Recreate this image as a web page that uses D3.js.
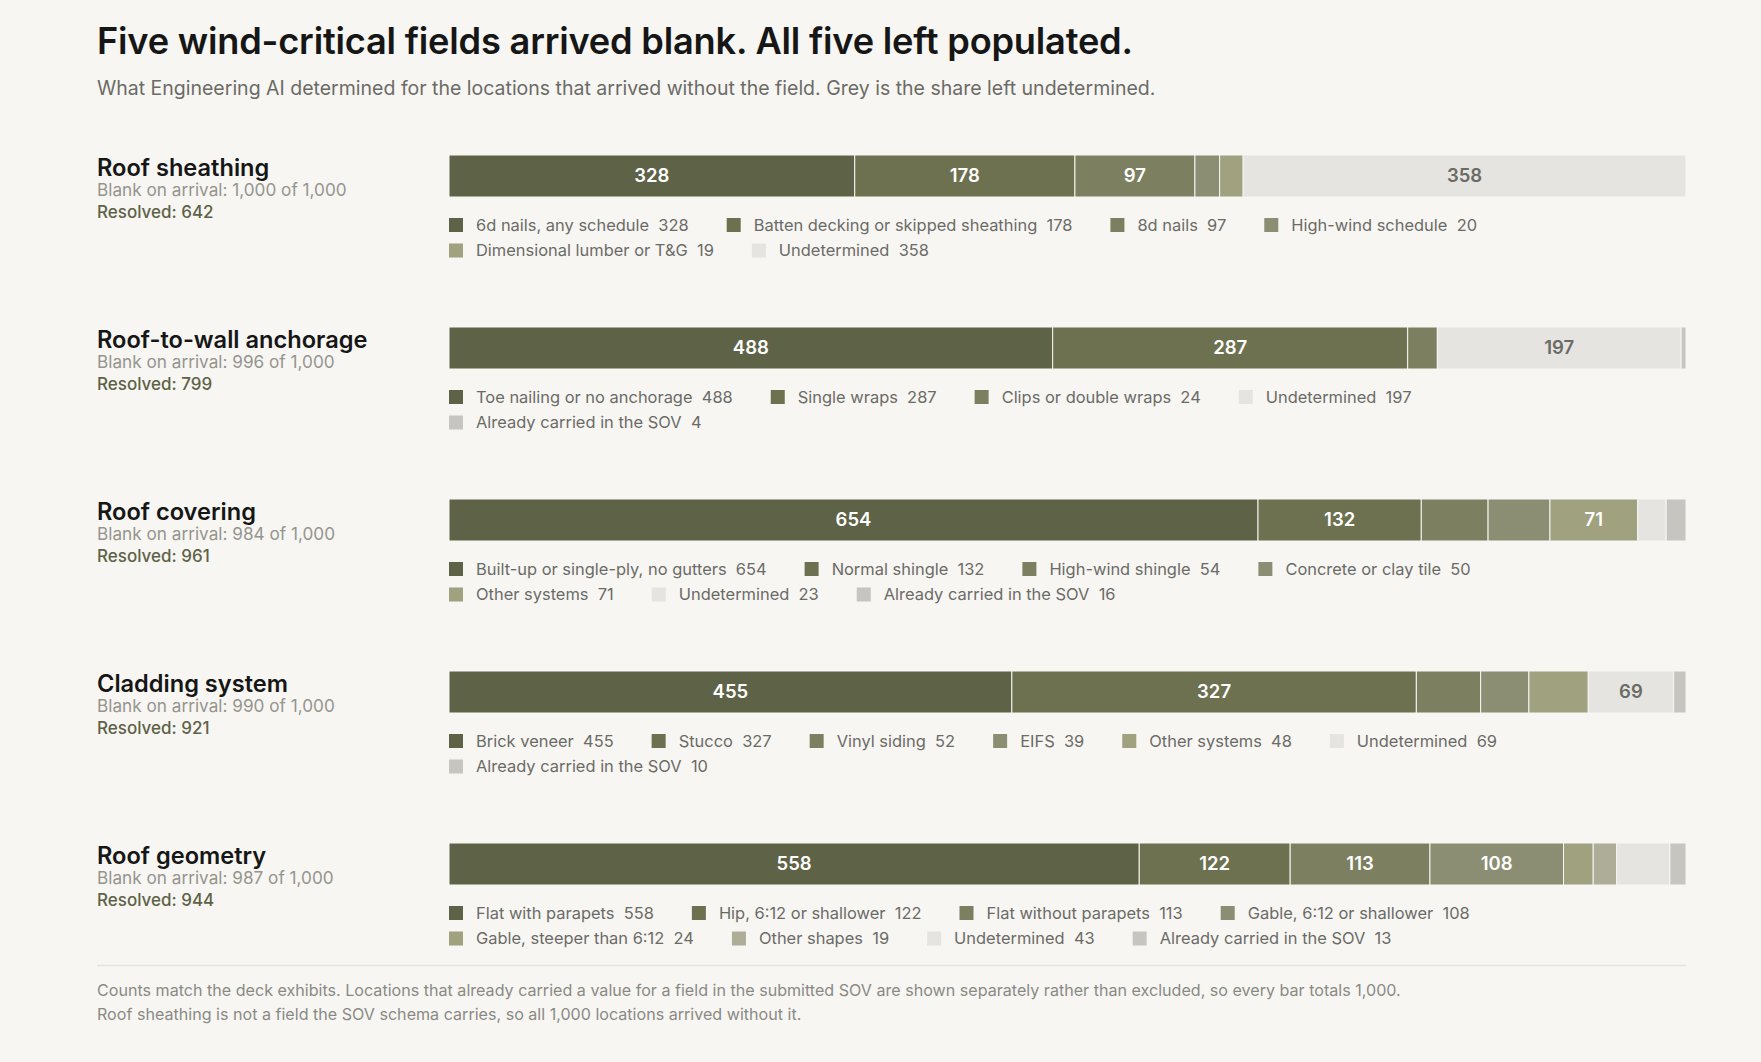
<!DOCTYPE html>
<html>
<head>
<meta charset="utf-8">
<script src="https://cdn.jsdelivr.net/npm/d3@7/dist/d3.min.js"></script>
<style>
  html, body { margin: 0; padding: 0; background: #f7f6f3; }
  svg { display: block; font-family: Inter, "Noto Sans", sans-serif; }
</style>
</head>
<body>
<script>
// fields, top to bottom
var fields = ["Roof sheathing", "Roof-to-wall anchorage", "Roof covering", "Cladding system", "Roof geometry"];

var sheathingCats = ["6d nails, any schedule", "Batten decking or skipped sheathing", "8d nails", "High-wind schedule", "Dimensional lumber or T&G", "Undetermined"];
var sheathingVals = [328, 178, 97, 20, 19, 358];

var anchorageCats = ["Toe nailing or no anchorage", "Single wraps", "Clips or double wraps", "Undetermined", "Already carried in the SOV"];
var anchorageVals = [488, 287, 24, 197, 4];

var coveringCats = ["Built-up or single-ply, no gutters", "Normal shingle", "High-wind shingle", "Concrete or clay tile", "Other systems", "Undetermined", "Already carried in the SOV"];
var coveringVals = [654, 132, 54, 50, 71, 23, 16];

var claddingCats = ["Brick veneer", "Stucco", "Vinyl siding", "EIFS", "Other systems", "Undetermined", "Already carried in the SOV"];
var claddingVals = [455, 327, 52, 39, 48, 69, 10];

var geometryCats = ["Flat with parapets", "Hip, 6:12 or shallower", "Flat without parapets", "Gable, 6:12 or shallower", "Gable, steeper than 6:12", "Other shapes", "Undetermined", "Already carried in the SOV"];
var geometryVals = [558, 122, 113, 108, 24, 19, 43, 13];

var fieldCats = [sheathingCats, anchorageCats, coveringCats, claddingCats, geometryCats];
var fieldVals = [sheathingVals, anchorageVals, coveringVals, claddingVals, geometryVals];

var total = 1000;

var olive = ["#5e6246", "#6d7150", "#7c8060", "#8b8e73", "#9fa17f", "#adad98"];
var undetColor = "#e5e4e1";
var alreadyColor = "#c6c5c0";

var W = 1761, H = 1062;
var margin = {left: 97, right: 75};
var barX = 449, barW = 1686 - 449;
var barTop = 155, barH = 42, rowStep = 172;

var fmt = d3.format(",");

var svg = d3.select("body").append("svg")
    .attr("width", W)
    .attr("height", H);

svg.append("text")
    .attr("x", margin.left)
    .attr("y", 54)
    .attr("font-size", 36.2)
    .attr("font-weight", 600)
    .attr("fill", "#161616")
    .attr("letter-spacing", "-0.2")
    .text("Five wind-critical fields arrived blank. All five left populated.");

svg.append("text")
    .attr("x", margin.left)
    .attr("y", 95)
    .attr("font-size", 19.5)
    .attr("fill", "#6b6b66")
    .text("What Engineering AI determined for the locations that arrived without the field. Grey is the share left undetermined.");

var xScale = d3.scaleLinear()
    .domain([0, total])
    .range([0, barW]);

function colorFor(cat, i) {
    if (cat === "Undetermined") return undetColor;
    if (cat === "Already carried in the SOV") return alreadyColor;
    return olive[i];
}

fields.forEach(function (field, fi) {
    var cats = fieldCats[fi], vals = fieldVals[fi];
    var y0 = barTop + fi * rowStep;

    var already = 0, undet = 0;
    var segs = [];
    var acc = 0;
    cats.forEach(function (c, i) {
        if (c === "Undetermined") undet = vals[i];
        if (c === "Already carried in the SOV") already = vals[i];
        segs.push({cat: c, value: vals[i], start: acc, color: colorFor(c, i)});
        acc += vals[i];
    });
    var resolved = total - already - undet;

    var g = svg.append("g").attr("class", "row");

    // left labels
    g.append("text")
        .attr("x", margin.left)
        .attr("y", y0 + 21)
        .attr("font-size", 23.6)
        .attr("font-weight", 600)
        .attr("fill", "#161616")
        .text(field);
    g.append("text")
        .attr("x", margin.left)
        .attr("y", y0 + 41)
        .attr("font-size", 17.2)
        .attr("fill", "#95958e")
        .text("Blank on arrival: " + fmt(total - already) + " of " + fmt(total));
    g.append("text")
        .attr("x", margin.left)
        .attr("y", y0 + 63)
        .attr("font-size", 17)
        .attr("font-weight", 500)
        .attr("fill", "#5e6246")
        .text("Resolved: " + fmt(resolved));

    // stacked bar
    var bar = g.append("g").attr("transform", "translate(" + barX + "," + y0 + ")");
    bar.selectAll("rect")
        .data(segs)
        .enter().append("rect")
        .attr("x", function (d) { return xScale(d.start); })
        .attr("y", 0)
        .attr("width", function (d) { return xScale(d.value); })
        .attr("height", barH)
        .attr("fill", function (d) { return d.color; })
        .attr("stroke", "#f7f6f3")
        .attr("stroke-width", 1);

    bar.selectAll("text.seg")
        .data(segs.filter(function (d) { return xScale(d.value) > 75; }))
        .enter().append("text")
        .attr("class", "seg")
        .attr("x", function (d) { return xScale(d.start + d.value / 2); })
        .attr("y", barH / 2)
        .attr("dy", "0.3em")
        .attr("text-anchor", "middle")
        .attr("font-size", 18.5)
        .attr("font-weight", 600)
        .attr("fill", function (d) { return d.cat === "Undetermined" ? "#6b6b66" : "#ffffff"; })
        .text(function (d) { return d.value; });

    // legend, wrapped to the bar width
    var leg = g.append("g").attr("transform", "translate(" + barX + "," + (y0 + barH + 28) + ")");
    var lx = 0, ly = 0, sw = 14, lineH = 25.5, gap = 38;
    segs.forEach(function (d) {
        var item = leg.append("g");
        item.append("rect")
            .attr("x", 0)
            .attr("y", -sw / 2)
            .attr("width", sw)
            .attr("height", sw)
            .attr("fill", d.color);
        var t = item.append("text")
            .attr("x", sw + 13)
            .attr("y", 0)
            .attr("dy", "0.35em")
            .attr("font-size", 16.45)
            .attr("fill", "#6b6b66")
            .attr("xml:space", "preserve")
            .text(d.cat + "  " + d.value);
        var w = sw + 13 + t.node().getComputedTextLength();
        if (lx > 0 && lx + w + gap > barW) {
            lx = 0;
            ly += lineH;
        }
        item.attr("transform", "translate(" + lx + "," + ly + ")");
        lx += w + gap;
    });
});

// footer
svg.append("line")
    .attr("x1", margin.left)
    .attr("x2", 1686)
    .attr("y1", 965.5)
    .attr("y2", 965.5)
    .attr("stroke", "#e6e4e0")
    .attr("stroke-width", 1.5);

var notes = [
    "Counts match the deck exhibits. Locations that already carried a value for a field in the submitted SOV are shown separately rather than excluded, so every bar totals 1,000.",
    "Roof sheathing is not a field the SOV schema carries, so all 1,000 locations arrived without it."
];
svg.selectAll("text.note")
    .data(notes)
    .enter().append("text")
    .attr("class", "note")
    .attr("x", margin.left)
    .attr("y", function (d, i) { return 996 + i * 23.5; })
    .attr("font-size", 16.1)
    .attr("fill", "#8a8a84")
    .text(function (d) { return d; });
</script>
</body>
</html>
